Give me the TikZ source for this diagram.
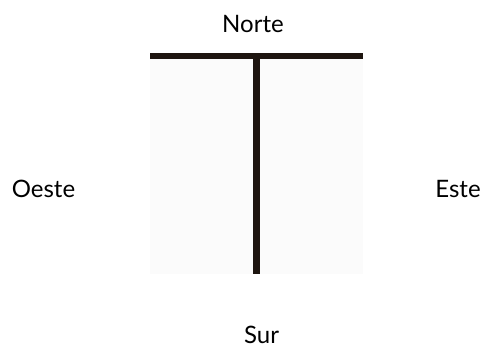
\documentclass[tikz,border=0pt]{standalone}
\usepackage{fontspec}
\setmainfont{Lato}
\usepackage{tikz}
\usetikzlibrary{positioning}
\definecolor{colBar}{HTML}{1E1510}
\definecolor{colPanel}{HTML}{FBFBFB}

\begin{document}
\begin{tikzpicture}[
		x=1pt, y=-1pt,
		lbl/.style={font=\fontsize{24}{28}\selectfont, inner sep=0pt, anchor=base},
		bar/.style={colBar, line width=6.5pt}
	]
		\useasboundingbox (0,0) rectangle (482,348);

		% Panel
		\node[fill=colPanel, minimum width=213pt, minimum height=221pt, inner sep=0pt,
			  anchor=north west] (panel) at (150,53) {};

		% T bars
		\draw[bar, line width=6pt] ([yshift=-3pt]panel.north west) -- ([yshift=-3pt]panel.north east);
		\draw[bar, line width=7.5pt] (panel.north) -- (panel.south);

		% Cardinal points
		\node[lbl] (norte) at (253,32) {Norte};
		\node[lbl] (sur) at (261.5,343) {Sur};
		\node[lbl] (oeste) at (43.5,197) {Oeste};
		\node[lbl] (este) at (458,197) {Este};
	\end{tikzpicture}
\end{document}
